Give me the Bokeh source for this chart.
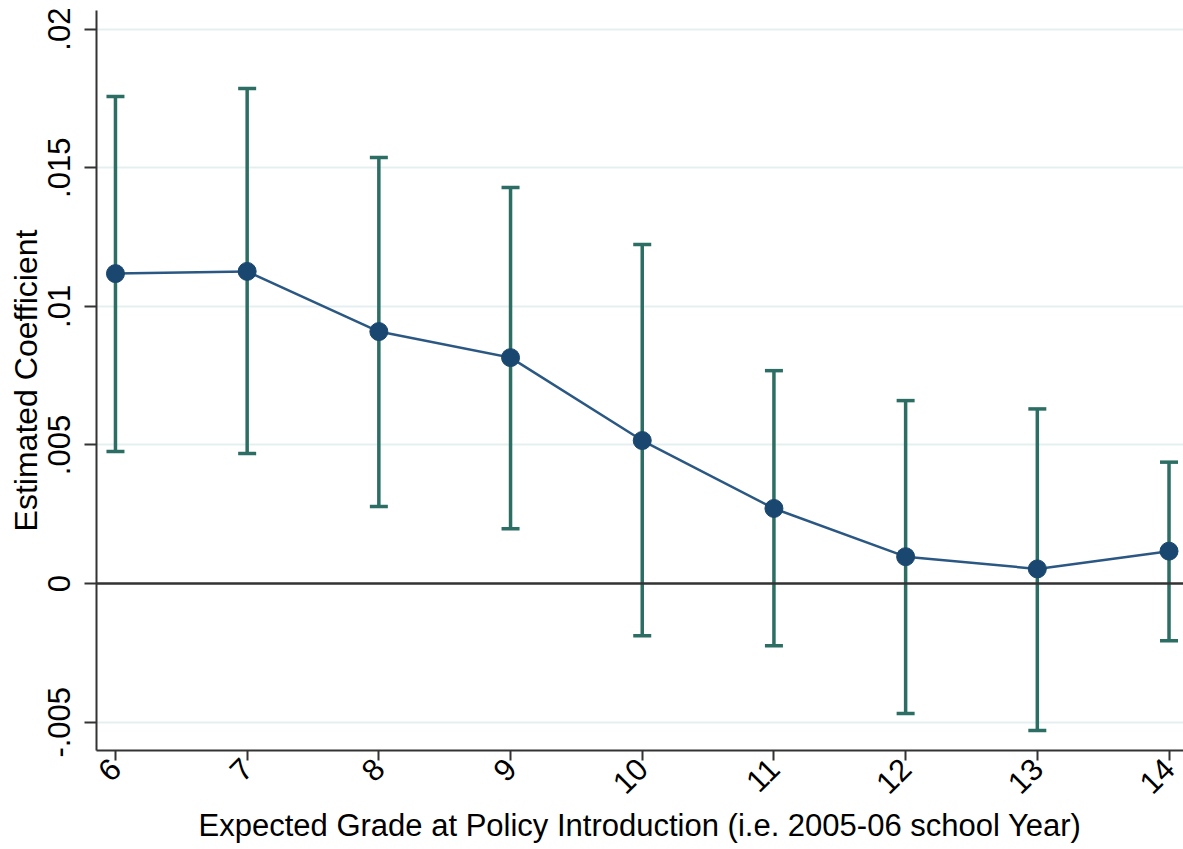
import math

from bokeh.plotting import figure
from bokeh.models import Range1d, FixedTicker, Whisker, TeeHead, ColumnDataSource, Span
from bokeh.embed import file_html
from bokeh.resources import INLINE

# Expected grade at policy introduction (2005-06 school year)
grades = [6, 7, 8, 9, 10, 11, 12, 13, 14]
# Point estimates and 95% confidence bounds
coef = [0.01118, 0.01126, 0.00909, 0.00815, 0.00516, 0.00271, 0.00097, 0.00053, 0.00117]
ci_upper = [0.01757, 0.01786, 0.01537, 0.01429, 0.01223, 0.00768, 0.00660, 0.00630, 0.00438]
ci_lower = [0.00476, 0.00469, 0.00278, 0.00198, -0.00188, -0.00224, -0.00469, -0.00530, -0.00206]

y_ticks = [-0.005, 0.0, 0.005, 0.01, 0.015, 0.02]
y_tick_labels = ["-.005", "0", ".005", ".01", ".015", ".02"]

FONT = "Liberation Sans"
LINE_COLOR = "#2a5883"
MARKER_COLOR = "#1a476f"
CI_COLOR = "#2c6e63"
AXIS_COLOR = "#333333"
GRID_COLOR = "#e5eff1"

src = ColumnDataSource(dict(x=grades, y=coef, lo=ci_lower, hi=ci_upper))

p = figure(
    width=1183, height=849,
    x_range=Range1d(5.856, 14.11),
    y_range=Range1d(-0.00602, 0.02067),
    output_backend="svg", toolbar_location=None,
    min_border_left=96, min_border_right=0, min_border_top=10, min_border_bottom=99,
)
p.outline_line_color = None
p.background_fill_color = "white"
p.border_fill_color = "white"

# grid: horizontal only
p.xgrid.grid_line_color = None
p.ygrid.grid_line_color = GRID_COLOR
p.ygrid.grid_line_width = 2

# axes
p.xaxis.ticker = FixedTicker(ticks=grades)
p.yaxis.ticker = FixedTicker(ticks=y_ticks)
p.yaxis.major_label_overrides = {t: s for t, s in zip(y_ticks, y_tick_labels)}
p.xaxis.major_label_overrides = {g: str(g) for g in grades}

for ax in (p.xaxis, p.yaxis):
    ax.axis_line_color = AXIS_COLOR
    ax.axis_line_width = 2
    ax.major_tick_line_color = AXIS_COLOR
    ax.major_tick_line_width = 2
    ax.major_tick_in = 0
    ax.minor_tick_line_color = None
    ax.major_label_text_font = FONT
    ax.major_label_text_font_size = "31px"
    ax.major_label_text_color = "black"
    ax.axis_label_text_font = FONT
    ax.axis_label_text_font_size = "31px"
    ax.axis_label_text_font_style = "normal"
    ax.axis_label_text_color = "black"

p.yaxis.major_tick_out = 12
p.yaxis.major_label_orientation = "vertical"
p.yaxis.major_label_standoff = 14
p.yaxis.axis_label = "Estimated Coefficient"
p.yaxis.axis_label_text_font_size = "32px"
p.yaxis.axis_label_standoff = 2

p.xaxis.major_tick_out = 10
p.xaxis.major_label_orientation = math.pi / 4
p.xaxis.major_label_standoff = 3
p.xaxis.axis_label = "Expected Grade at Policy Introduction (i.e. 2005-06 school Year)"
p.xaxis.axis_label_standoff = 2

# reference line at zero
p.add_layout(Span(location=0, dimension="width", line_color="#333333", line_width=2.5))

# confidence intervals
whisk = Whisker(
    source=src, base="x", upper="hi", lower="lo",
    line_color=CI_COLOR, line_width=3.5,
    upper_head=TeeHead(size=18, line_color=CI_COLOR, line_width=3.5),
    lower_head=TeeHead(size=18, line_color=CI_COLOR, line_width=3.5),
)
p.add_layout(whisk)

# point estimates
p.line("x", "y", source=src, line_color=LINE_COLOR, line_width=2.5)
p.scatter("x", "y", source=src, size=18, fill_color=MARKER_COLOR, line_color=MARKER_COLOR)

open("out.html", "w").write(file_html(p, INLINE))
